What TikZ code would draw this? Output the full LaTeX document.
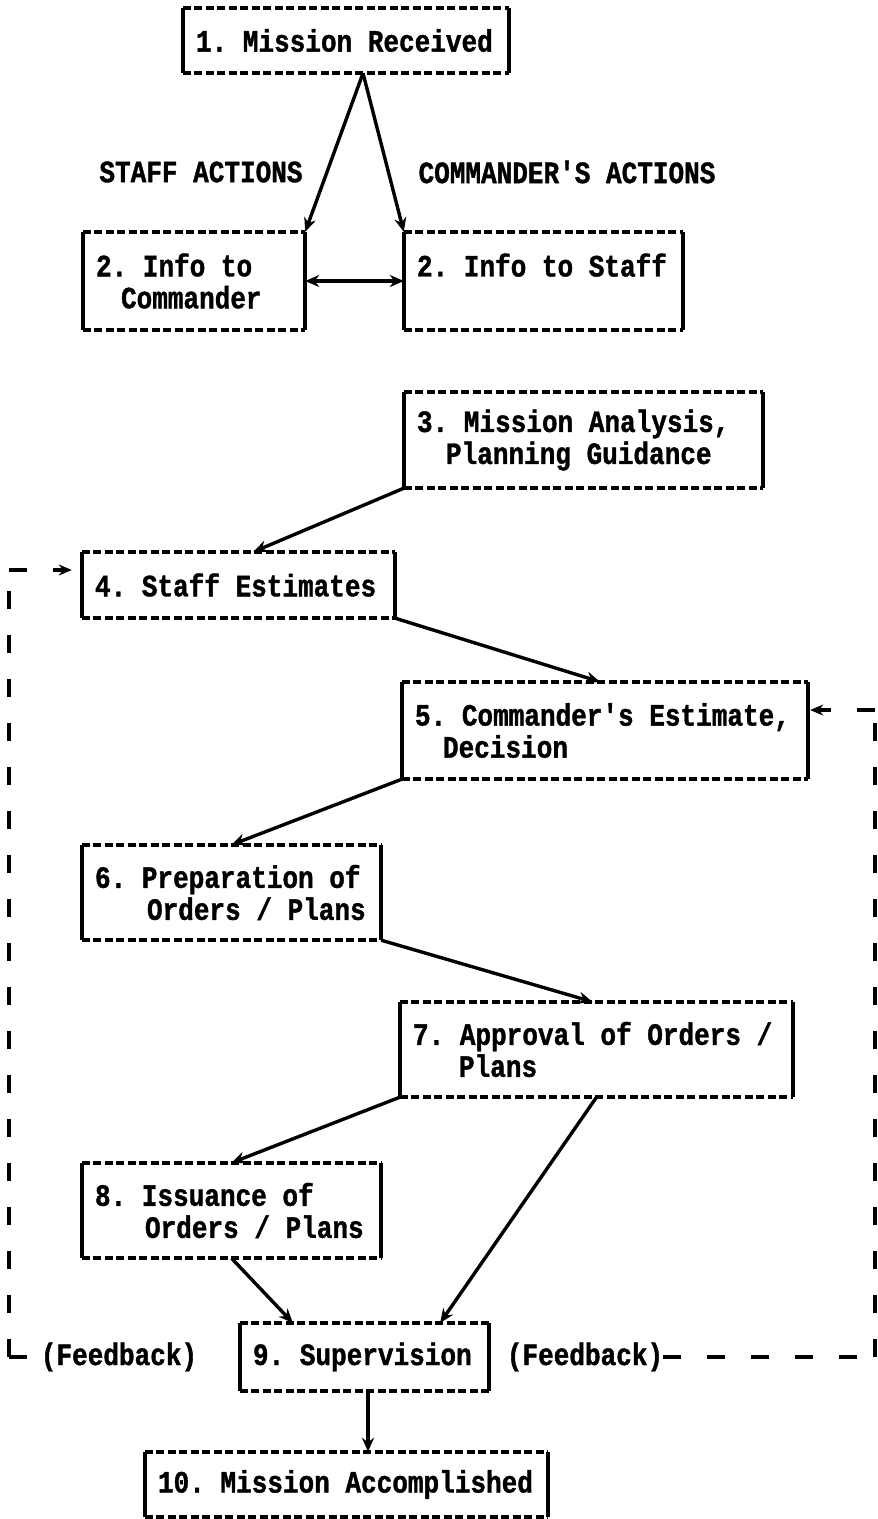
\documentclass[tikz,border=0pt]{standalone}
\usepackage{fontspec}
\newfontfamily\tw{Liberation Mono}[FakeStretch=0.84, BoldFeatures={FakeBold=1.2}]
\DeclareRobustCommand\twfont{\tw\bfseries\fontsize{31}{32}\selectfont\frenchspacing\spaceskip=15.6pt\relax}
\newcommand\wsp{\spaceskip=15.6pt\xspaceskip=15.6pt\relax}
\usetikzlibrary{arrows.meta,calc}
\tikzset{
  txt/.style={font=\twfont},
  box/.style={txt, inner xsep=13pt, inner ysep=0pt, align=left},
  lbl/.style={txt, inner sep=0pt},
  tip/.style={-{Stealth[length=14pt,width=12pt]}},
  conn/.style={line width=3.4pt, tip},
  fbline/.style={line width=3.2pt, dash pattern=on 18pt off 26pt},
  fb/.style={fbline, -{Stealth[length=13pt,width=11pt]}},
  dedge/.style={line width=3.6pt, dash pattern=on 8pt off 3.5pt},
  sedge/.style={line width=3.6pt},
}
\begin{document}
\begin{tikzpicture}[x=1pt,y=-1pt]
\useasboundingbox (0,0) rectangle (878,1519);
% boxes
\node[box, text width=300pt, minimum height=65pt] (n1) at (346,40.5) {\wsp 1. Mission Received};
\node[box, text width=196pt, minimum height=98pt] (n2a) at (194,281) {\wsp 2. Info to\\\hspace*{25pt}Commander};
\node[box, text width=253pt, minimum height=98pt] (n2b) at (543.5,281) {\wsp 2. Info to Staff\\\mbox{}};
\node[box, text width=333pt, minimum height=96pt] (n3) at (583.5,440) {\wsp 3. Mission Analysis,\\\hspace*{29pt}Planning Guidance};
\node[box, text width=287pt, minimum height=66pt] (n4) at (238.5,585) {\wsp 4. Staff Estimates};
\node[box, text width=380pt, minimum height=97pt] (n5) at (605,730.5) {\wsp 5. Commander's Estimate,\\\hspace*{28pt}Decision};
\node[box, text width=273pt, minimum height=95pt] (n6) at (231.5,892.5) {\wsp 6. Preparation of\\\hspace*{52pt}Orders / Plans};
\node[box, text width=367pt, minimum height=95pt] (n7) at (596.5,1049.5) {\wsp 7. Approval of Orders /\\\hspace*{46pt}Plans};
\node[box, text width=273pt, minimum height=95pt] (n8) at (231.5,1210.5) {\wsp 8. Issuance of\\\hspace*{50pt}Orders / Plans};
\node[box, text width=223pt, minimum height=68pt] (n9) at (364.5,1357) {\wsp 9. Supervision};
\node[box, text width=377pt, minimum height=65pt] (n10) at (346.5,1484.5) {\wsp 10. Mission Accomplished};
% box borders: dashed top/bottom, solid sides
\foreach \n in {n1,n2a,n2b,n3,n4,n5,n6,n7,n8,n9,n10}{
  \draw[dedge] (\n.north west) -- (\n.north east);
  \draw[dedge] (\n.south west) -- (\n.south east);
  \draw[sedge] (\n.north west) -- (\n.south west);
  \draw[sedge] (\n.north east) -- (\n.south east);
}
% labels
\node[lbl] (staff) at (201,172) {STAFF ACTIONS};
\node[lbl] (cmdr) at (567,172) {COMMANDER'S ACTIONS};
\node[lbl] (fbL) at (119,1357) {(Feedback)};
\node[lbl] (fbR) at (585,1357) {(Feedback)};
% connectors
\draw[conn] ([xshift=17pt]n1.south) -- (n2a.north east);
\draw[conn] ([xshift=17pt]n1.south) -- (n2b.north west);
\draw[line width=3.4pt, {Stealth[length=14pt,width=12pt]}-{Stealth[length=14pt,width=12pt]}] (n2a.east) -- (n2b.west);
\draw[conn] (n3.south west) -- ([xshift=15pt]n4.north);
\draw[conn] (n4.south east) -- ([xshift=-5pt]n5.north);
\draw[conn] (n5.south west) -- (n6.north);
\draw[conn] (n6.south east) -- ([xshift=-4pt]n7.north);
\draw[conn] (n7.south west) -- (n8.north);
\draw[conn] (n7.south) -- ([xshift=-49pt]n9.north east);
\draw[conn] (n8.south) -- ([xshift=53pt]n9.north west);
\draw[conn] ([xshift=3.5pt]n9.south) -- ([xshift=3.5pt]n9.south |- n10.north);
% feedback loops
\coordinate (cL) at (9,1357);
\coordinate (cTL) at (9,570);
\coordinate (cR) at (875,1357);
\coordinate (cTR) at (875,710);
\draw[fbline] (cL) -- (fbL.west);
\draw[fbline] (cL) -- (cTL);
\draw[fb] (cTL) -- ([xshift=-10pt]n4.west |- cTL);
\draw[fbline] (fbR.east) -- (cR);
\draw[fbline] (cR) -- (cTR);
\draw[fb] (cTR) -- ([xshift=2pt]n5.east |- cTR);
\end{tikzpicture}
\end{document}
